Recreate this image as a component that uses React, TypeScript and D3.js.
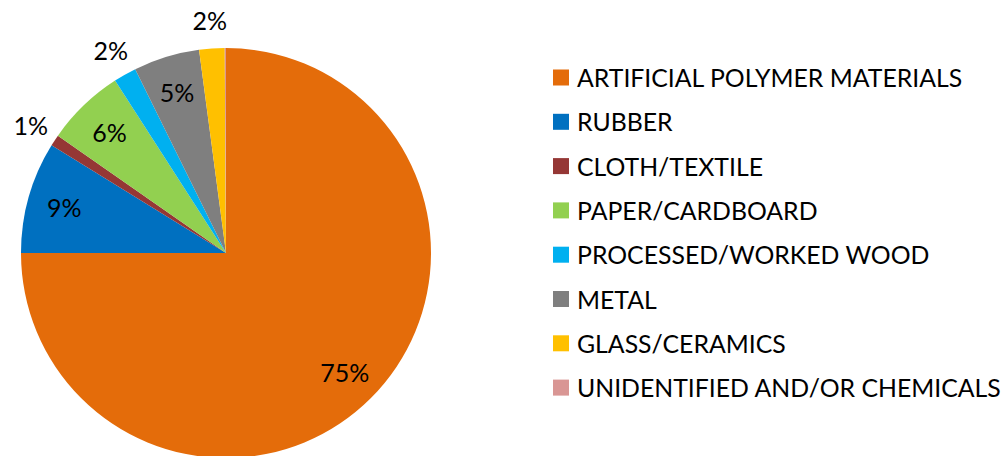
import React from "react";
import * as d3 from "d3";

const categories = [
  "ARTIFICIAL POLYMER MATERIALS",
  "RUBBER",
  "CLOTH/TEXTILE",
  "PAPER/CARDBOARD",
  "PROCESSED/WORKED WOOD",
  "METAL",
  "GLASS/CERAMICS",
  "UNIDENTIFIED AND/OR CHEMICALS",
];
const shares = [75, 8.8, 0.9, 6.2, 1.8, 5.2, 2.0, 0.1];
const colors = ["#E46C0A", "#0070C0", "#953735", "#92D050", "#00B0F0", "#7F7F7F", "#FFC000", "#D99694"];

const W = 1005;
const H = 456;
const cx = 226;
const cy = 253;
const R = 205;
const FONT = "Lato, 'Open Sans', sans-serif";

export default function App() {
  const pie = d3.pie<number>().sort(null).value((d) => d).startAngle(0).endAngle(2 * Math.PI);
  const arcs = pie(shares);
  const arcGen = d3.arc<d3.PieArcDatum<number>>().innerRadius(0).outerRadius(R);
  const inLabel = d3.arc<d3.PieArcDatum<number>>().innerRadius(R * 0.82).outerRadius(R * 0.82);
  const outLabel = d3.arc<d3.PieArcDatum<number>>().innerRadius(R * 1.14).outerRadius(R * 1.14);
  const total = d3.sum(shares);

  const legendY = d3.scaleLinear().domain([0, 1]).range([77.5, 121.8]);

  return (
    <svg width={W} height={H} style={{ position: "absolute", left: 0, top: 0 }} fontFamily={FONT}>
      <rect width={W} height={H} fill="#fff" />
      <g transform={`translate(${cx},${cy})`}>
        {arcs.map((a, i) => (
          <path key={i} d={arcGen(a) || ""} fill={colors[i]} />
        ))}
        {arcs.map((a, i) => {
          const pct = Math.round((a.data / total) * 100);
          if (pct === 0) return null;
          const [x, y] = pct < 3 ? outLabel.centroid(a) : inLabel.centroid(a);
          return (
            <text key={i} x={x} y={y} textAnchor="middle" dominantBaseline="central" fontSize={25} fill="#000">
              {pct}%
            </text>
          );
        })}
      </g>
      <g>
        {categories.map((c, i) => (
          <g key={c} transform={`translate(0,${legendY(i)})`}>
            <rect x={553} y={-8} width={16} height={16} fill={colors[i]} />
            <text x={577} y={0} dominantBaseline="central" fontSize={24.8} fill="#000">
              {c}
            </text>
          </g>
        ))}
      </g>
    </svg>
  );
}
